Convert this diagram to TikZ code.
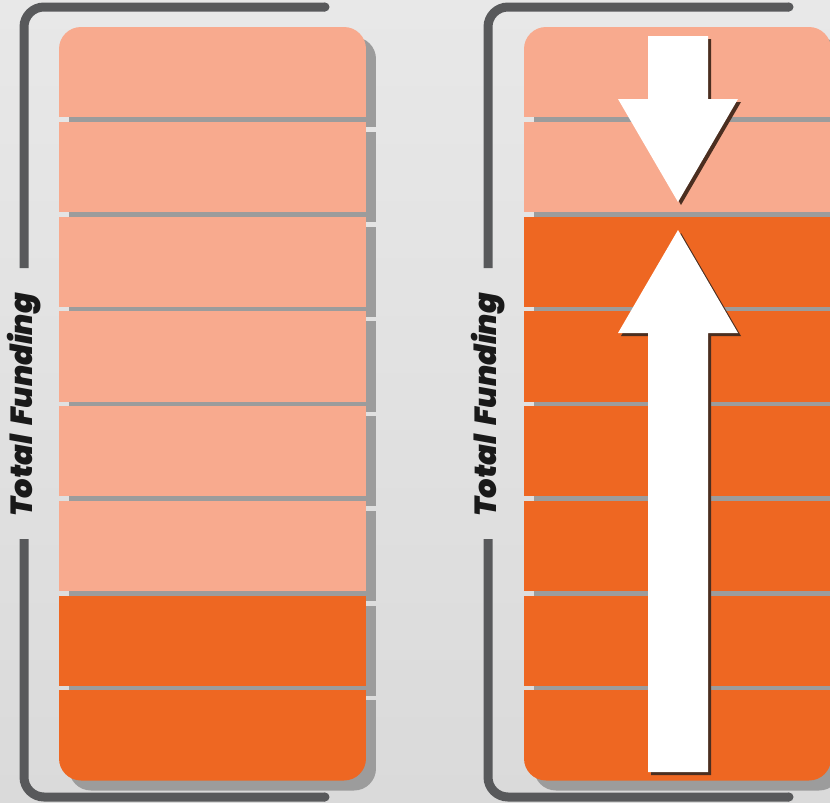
\documentclass[tikz,border=0pt]{standalone}
\usepackage{fontspec}
\newfontfamily\labelfont{Poppins}[BoldItalicFont={Poppins Black Italic}]
\definecolor{bgtop}{HTML}{E8E8E8}
\definecolor{bgbot}{HTML}{DADADA}
\definecolor{bracketgray}{HTML}{58595B}
\definecolor{shadowgray}{HTML}{9C9C9C}
\definecolor{lightsalmon}{HTML}{F8AA8E}
\definecolor{deeporange}{HTML}{EE6722}
\definecolor{arrowshadow}{HTML}{4B2E20}
\tikzset{
  bracketline/.style={draw=bracketgray, line width=9pt, line cap=butt, rounded corners=20pt},
  bracketcap/.style={fill=bracketgray},
  sideLabel/.style={font=\labelfont\bfseries\itshape\fontsize{30.5}{30.5}\selectfont, text=black!90, rotate=90, inner sep=0pt},
  seglight/.style={fill=lightsalmon},
  segdark/.style={fill=deeporange},
  segshadow/.style={fill=shadowgray},
  bigarrow/.style={fill=white},
  bigarrowshadow/.style={fill=arrowshadow},
}
\begin{document}
\begin{tikzpicture}[x=1pt,y=-1pt]
\useasboundingbox (0,0) rectangle (830,803);
\clip (0,0) rectangle (830,803);
\shade[top color=bgtop, bottom color=bgbot] (0,0) rectangle (830,803);

% ---------- brackets and labels ----------
\foreach \dx/\nm in {0/L,464/R}{
  \begin{scope}[xshift=\dx pt]
    \draw[bracketline] (325,7) -- (24,7) -- (24,268);
    \draw[bracketline] (24,539) -- (24,797) -- (325,797);
    \fill[bracketcap] (325,7) circle (4.5pt);
    \fill[bracketcap] (325,797) circle (4.5pt);
    \node[sideLabel] (label\nm) at (24,405) {Total\hspace{4pt} Funding};
  \end{scope}
}

% ---------- stacks ----------
\foreach \dx/\nlight in {0/6,465/2}{
  \begin{scope}[xshift=\dx pt]
    % shadows
    \begin{scope}
      \clip[rounded corners=22pt] (69,37) rectangle (376,790.5);
      \foreach \k in {0,...,7}{
        \fill[segshadow] (69,{37+94.75*\k}) rectangle (376,{37+94.75*\k+90.25});
      }
    \end{scope}
    % segments
    \begin{scope}
      \clip[rounded corners=22pt] (59,27) rectangle (366,780.5);
      \foreach \k in {0,...,7}{
        \pgfmathtruncatemacro{\islight}{\k<\nlight ? 1 : 0}
        \ifnum\islight=1
          \fill[seglight] (59,{27+94.75*\k}) rectangle (366,{27+94.75*\k+90.25});
        \else
          \fill[segdark] (59,{27+94.75*\k}) rectangle (366,{27+94.75*\k+90.25});
        \fi
      }
    \end{scope}
  \end{scope}
}

% ---------- arrows (right panel) ----------
\fill[bigarrowshadow, shift={(3pt,-3pt)}] (648,36) -- (708,36) -- (708,99) -- (738,99) -- (678,202) -- (618,99) -- (648,99) -- cycle;
\fill[bigarrow] (648,36) -- (708,36) -- (708,99) -- (738,99) -- (678,202) -- (618,99) -- (648,99) -- cycle;
\fill[bigarrowshadow, shift={(3pt,-3pt)}] (678,230) -- (738,333) -- (708,333) -- (708,772) -- (648,772) -- (648,333) -- (618,333) -- cycle;
\fill[bigarrow] (678,230) -- (738,333) -- (708,333) -- (708,772) -- (648,772) -- (648,333) -- (618,333) -- cycle;
\end{tikzpicture}
\end{document}
